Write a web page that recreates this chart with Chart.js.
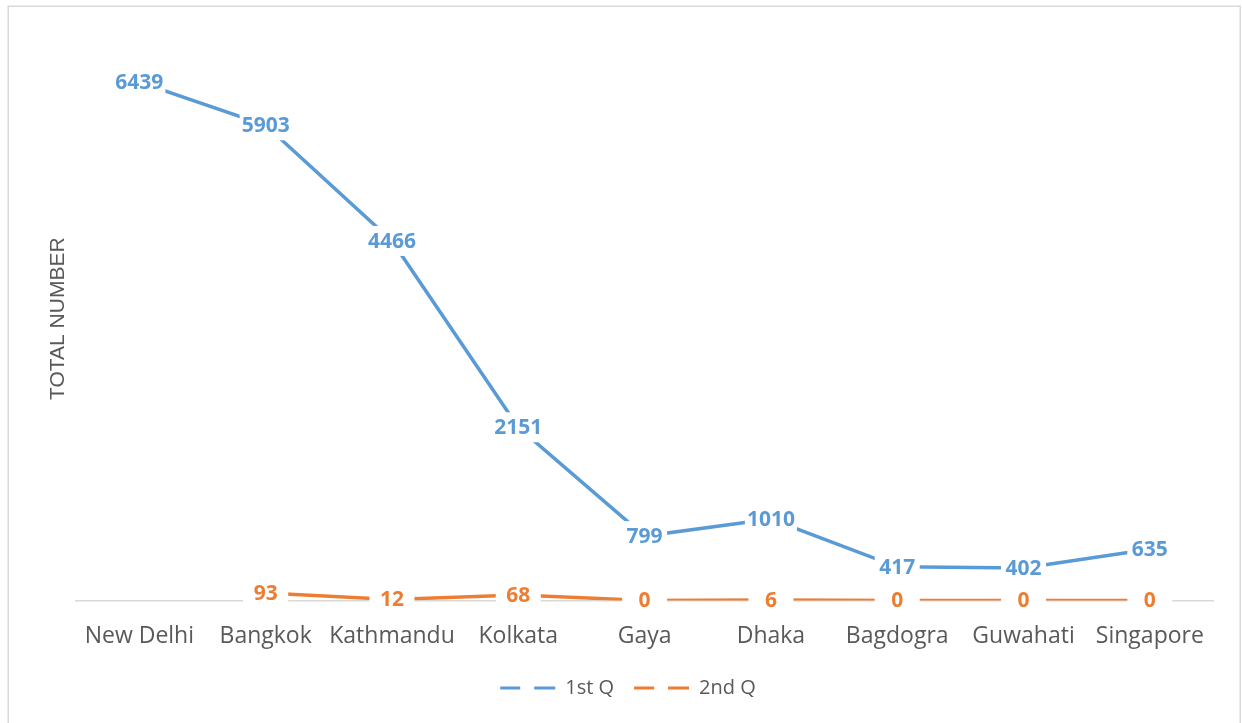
<!DOCTYPE html>
<html>
<head>
<meta charset="utf-8">
<script src="https://cdn.jsdelivr.net/npm/chart.js@4"></script>
<style>
  html, body { margin: 0; padding: 0; background: #fff; }
</style>
</head>
<body>
<canvas id="chart" width="1242" height="723"></canvas>
<script>
const cities = ["New Delhi", "Bangkok", "Kathmandu", "Kolkata", "Gaya", "Dhaka", "Bagdogra", "Guwahati", "Singapore"];
const firstQ = [6439, 5903, 4466, 2151, 799, 1010, 417, 402, 635];
const secondQ = [null, 93, 12, 68, 0, 6, 0, 0, 0];
const seriesNames = ["1st Q", "2nd Q"];

const blue = "#5B9BD5";
const orange = "#ED7D31";
const grey = "#595959";

// light frame round the chart, like the office export
const framePlugin = {
    id: "frame",
    beforeDraw(chart) {
        const ctx = chart.ctx;
        ctx.save();
        ctx.fillStyle = "#fff";
        ctx.fillRect(0, 0, chart.width, chart.height);
        ctx.strokeStyle = "#d9d9d9";
        ctx.lineWidth = 1.5;
        ctx.strokeRect(8.25, 6.25, 1232, 800);
        ctx.restore();
    }
};

// value labels sitting on the points, with a white box that cuts the line
const valueLabels = {
    id: "valueLabels",
    afterDatasetsDraw(chart) {
        const ctx = chart.ctx;
        ctx.save();
        ctx.font = 'bold 21px "Open Sans"';
        ctx.textAlign = "center";
        ctx.textBaseline = "middle";
        chart.data.datasets.forEach((ds, i) => {
            const meta = chart.getDatasetMeta(i);
            meta.data.forEach((pt, j) => {
                const v = ds.data[j];
                if (v === null || v === undefined) return;
                const txt = String(v);
                const w = Math.max(ctx.measureText(txt).width + 4, 45);
                ctx.fillStyle = "#fff";
                ctx.fillRect(pt.x - w / 2, pt.y - 15, w, 30);
                ctx.fillStyle = ds.borderColor;
                ctx.fillText(txt, pt.x, pt.y + 1);
            });
        });
        ctx.restore();
    }
};

new Chart(document.getElementById("chart"), {
    type: "line",
    data: {
        labels: cities,
        datasets: [
            { label: seriesNames[0], data: firstQ, borderColor: blue, backgroundColor: blue, borderWidth: 3.5, pointRadius: 0, tension: 0 },
            { label: seriesNames[1], data: secondQ, borderColor: orange, backgroundColor: orange, borderWidth: 3.5, pointRadius: 0, tension: 0 }
        ]
    },
    options: {
        responsive: false,
        animation: false,
        layout: { padding: { left: 43, right: 29, top: 37, bottom: 15 } },
        scales: {
            x: {
                offset: true,
                grid: { display: false, drawTicks: false },
                border: { display: true, color: "#d9d9d9", width: 1.5 },
                ticks: { color: grey, font: { family: '"Open Sans"', size: 23 }, padding: 22, autoSkip: false, maxRotation: 0 },
                afterFit(scale) { scale.height -= 14; }
            },
            y: {
                min: 0,
                max: 7000,
                grid: { display: false, drawTicks: false },
                border: { display: false },
                ticks: { display: false },
                title: { display: true, text: "TOTAL NUMBER", color: grey, font: { family: '"Liberation Sans"', size: 21 }, padding: { top: 3, bottom: 5 } }
            }
        },
        plugins: {
            tooltip: { enabled: false },
            legend: {
                position: "bottom",
                labels: {
                    boxWidth: 55,
                    boxHeight: 0,
                    color: grey,
                    font: { family: '"Open Sans"', size: 20 },
                    padding: 20,
                    generateLabels(chart) {
                        const items = Chart.defaults.plugins.legend.labels.generateLabels(chart);
                        items.forEach(it => {
                            it.lineDash = [20, 14, 21, 55];
                            it.lineCap = "butt";
                            it.lineWidth = 3;
                        });
                        return items;
                    }
                }
            }
        }
    },
    plugins: [framePlugin, valueLabels]
});
</script>
</body>
</html>
